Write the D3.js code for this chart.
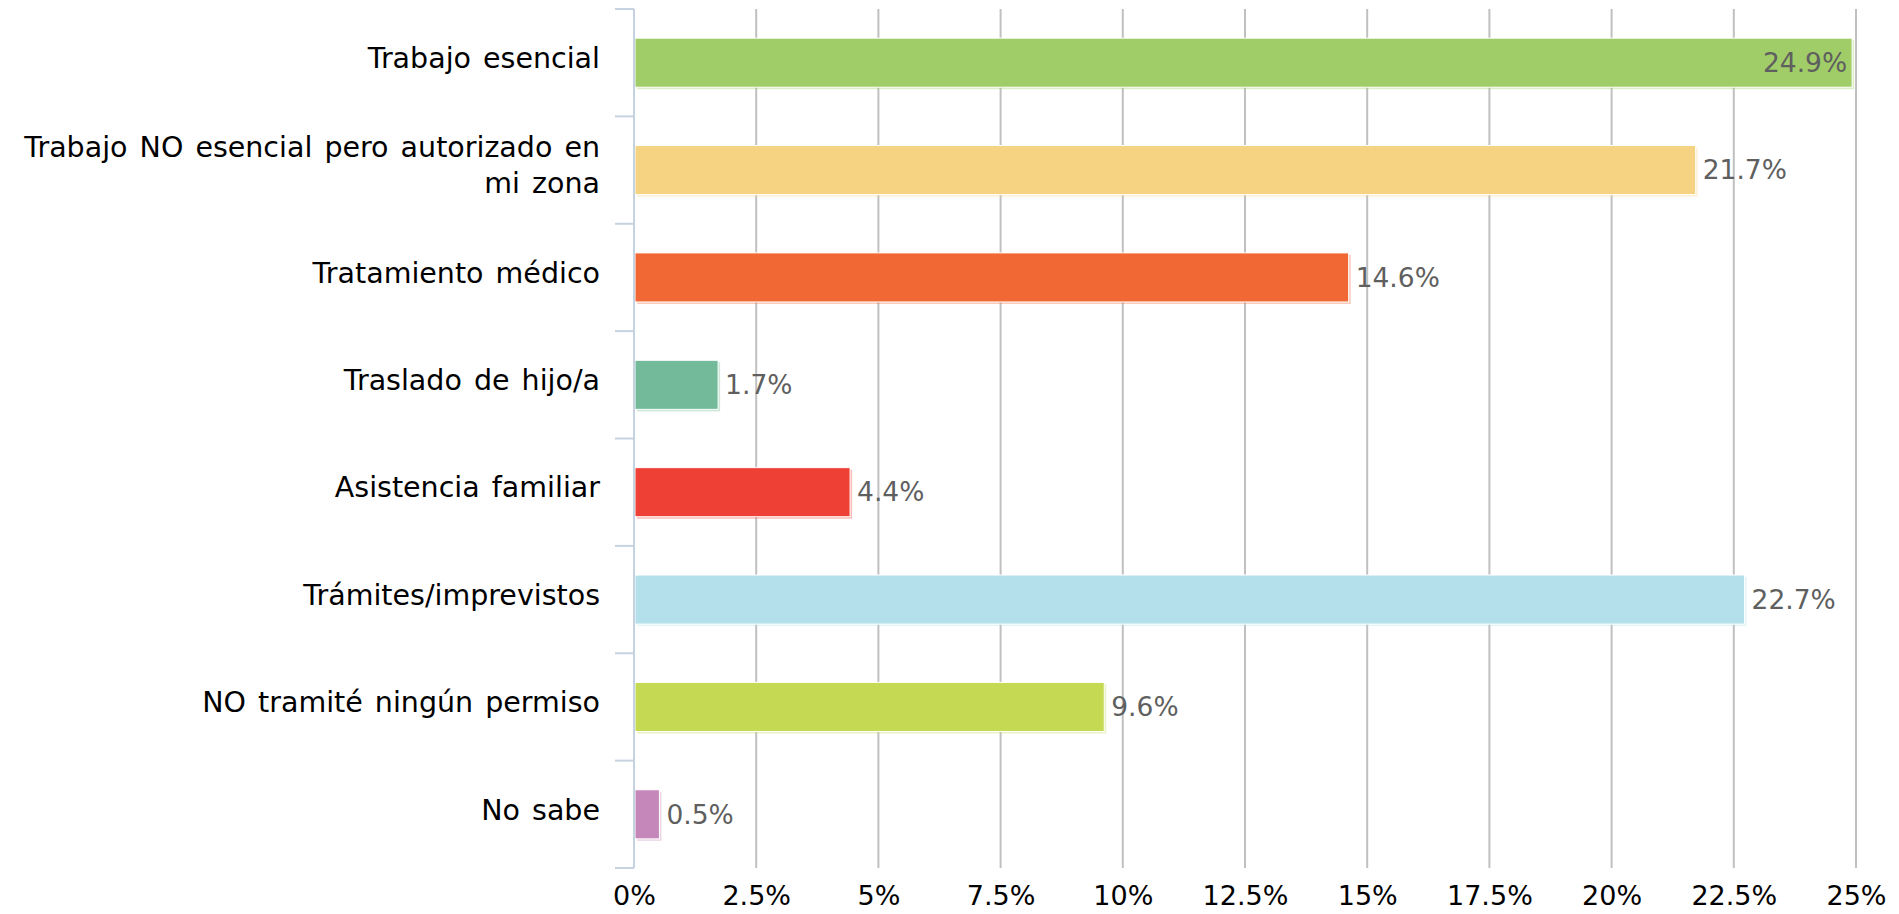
<!DOCTYPE html>
<html>
<head>
<meta charset="utf-8">
<script src="https://cdn.jsdelivr.net/npm/d3@7"></script>
<style>
    body { margin: 0; background: #fff; }
    text { font-family: "DejaVu Sans", sans-serif; }
</style>
</head>
<body>
<svg class="chart" width="1899" height="914"></svg>
<script>
var categories = [
    "Trabajo esencial",
    "Trabajo NO esencial pero autorizado en|mi zona",
    "Tratamiento médico",
    "Traslado de hijo/a",
    "Asistencia familiar",
    "Trámites/imprevistos",
    "NO tramité ningún permiso",
    "No sabe"
];
var values = [24.9, 21.7, 14.6, 1.7, 4.4, 22.7, 9.6, 0.5];
var colors = ["#a0cd68", "#f6d383", "#f26835", "#72ba99", "#ee4035", "#b4e0ec", "#c5d953", "#c587ba"];
var ticks = [0, 2.5, 5, 7.5, 10, 12.5, 15, 17.5, 20, 22.5, 25];

(function () {
    var svg = d3.select(".chart"),
        margin = { top: 9, right: 43, bottom: 46, left: 634 },
        width = +svg.attr("width") - margin.left - margin.right,
        height = +svg.attr("height") - margin.top - margin.bottom,
        g = svg.append("g").attr("transform", "translate(" + margin.left + "," + margin.top + ")");

    var data = categories.map(function (c, i) {
        return { name: c, value: values[i], color: colors[i] };
    });

    var x = d3.scaleLinear()
        .range([0, width])
        .domain([0, 25]);

    var y = d3.scaleBand()
        .range([0, height])
        .paddingInner(0.543)
        .paddingOuter(0.2715)
        .domain(categories);

    var band = d3.scaleBand().range([0, height]).domain(categories);

    // vertical grid lines (no line at 0, the axis sits there)
    g.selectAll(".grid")
        .data(ticks.filter(function (t) { return t > 0; }))
        .enter()
        .append("line")
        .attr("class", "grid")
        .attr("x1", function (d) { return x(d); })
        .attr("x2", function (d) { return x(d); })
        .attr("y1", 0)
        .attr("y2", height)
        .attr("stroke", "#c0c0c0")
        .attr("stroke-width", 2);

    // bottom tick labels
    var xAxis = d3.axisBottom(x)
        .tickValues(ticks)
        .tickSize(0)
        .tickPadding(18)
        .tickFormat(function (d) { return d + "%"; });

    var gx = g.append("g")
        .attr("transform", "translate(0," + height + ")")
        .call(xAxis);
    gx.select(".domain").remove();
    gx.selectAll("text")
        .attr("fill", "#000")
        .style("font-size", "27px");

    // bars: a light offset edge, then the bar with a white rim
    var bars = g.selectAll(".bar")
        .data(data)
        .enter()
        .append("g");

    bars.append("rect")
        .attr("x", 1 + 2)
        .attr("y", function (d) { return y(d.name) + 2; })
        .attr("width", function (d) { return x(d.value); })
        .attr("height", y.bandwidth())
        .attr("fill", function (d) { return d.color; })
        .attr("opacity", 0.35);

    bars.append("rect")
        .attr("class", "bar")
        .attr("x", 1)
        .attr("y", function (d) { return y(d.name); })
        .attr("width", function (d) { return x(d.value); })
        .attr("height", y.bandwidth())
        .attr("fill", function (d) { return d.color; })
        .attr("stroke", "#fff")
        .attr("stroke-width", 1);

    // value labels, inside the bar when it would run off the chart
    bars.append("text")
        .attr("y", function (d) { return y(d.name) + y.bandwidth() / 2; })
        .attr("dy", "0.35em")
        .attr("x", function (d) {
            return d.value > 23.5 ? x(d.value) - 4 : x(d.value) + 8;
        })
        .attr("text-anchor", function (d) { return d.value > 23.5 ? "end" : "start"; })
        .attr("fill", "#5f5f5f")
        .style("font-size", "26.5px")
        .text(function (d) { return d.value.toFixed(1) + "%"; });

    // left axis: line and tick marks at band edges
    var axisColor = "#c5d3e0";
    g.append("line")
        .attr("x1", 0).attr("x2", 0)
        .attr("y1", 0).attr("y2", height)
        .attr("stroke", axisColor)
        .attr("stroke-width", 2);

    var edges = categories.map(function (c) { return band(c); }).concat([height]);
    g.selectAll(".ytick")
        .data(edges)
        .enter()
        .append("line")
        .attr("x1", -19).attr("x2", 0)
        .attr("y1", function (d) { return d; })
        .attr("y2", function (d) { return d; })
        .attr("stroke", axisColor)
        .attr("stroke-width", 2);

    // category labels, split on "|"
    var labels = g.selectAll(".ylabel")
        .data(data)
        .enter()
        .append("text")
        .attr("class", "ylabel")
        .attr("text-anchor", "end")
        .attr("fill", "#000")
        .style("font-size", "28.5px")
        .style("word-spacing", "3px");

    labels.each(function (d) {
        var lines = d.name.split("|"),
            cy = band(d.name) + band.bandwidth() / 2 - 5,
            lh = 36,
            first = cy - (lines.length - 1) * lh / 2;
        d3.select(this).selectAll("tspan")
            .data(lines)
            .enter()
            .append("tspan")
            .attr("x", -34)
            .attr("y", function (l, i) { return first + i * lh; })
            .attr("dy", "0.36em")
            .text(function (l) { return l; });
    });
})();
</script>
</body>
</html>
